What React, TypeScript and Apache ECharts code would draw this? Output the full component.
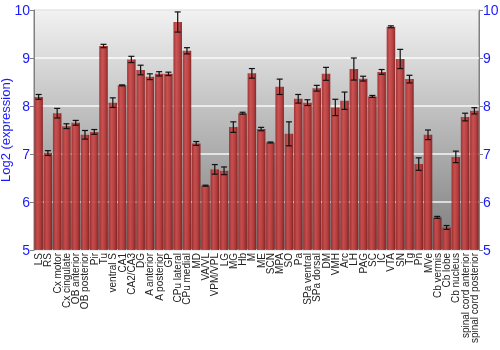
import React, { useEffect, useRef } from "react";
import * as echarts from "echarts";

const categories = [
  "LS", "RS", "Cx motor", "Cx cingulate", "OB anterior", "OB posterior", "Pir", "Tu",
  "ventral S", "CA1", "CA2/CA3", "DG", "A anterior", "A posterior", "GP", "CPu lateral",
  "CPu medial", "MD", "VA/VL", "VPM/VPL", "LG", "MG", "Hb", "M", "ME", "SCN", "MPA",
  "SO", "Pa", "SPa ventral", "SPa dorsal", "DM", "VMH", "Arc", "LH", "PAG", "SC", "IC",
  "VTA", "SN", "Tg", "Pn", "MVe", "Cb vermis", "Cb lobe", "Cb nucleus",
  "spinal cord anterior", "spinal cord posterior",
];

const values = [
  8.19, 7.02, 7.85, 7.58, 7.65, 7.40, 7.46, 9.25,
  8.07, 8.43, 8.97, 8.75, 8.61, 8.67, 8.67, 9.75,
  9.15, 7.22, 6.34, 6.68, 6.65, 7.56, 7.85, 8.68, 7.52, 7.24, 8.40,
  7.42, 8.15, 8.07, 8.37, 8.67, 7.97, 8.11, 8.77, 8.57, 8.20, 8.71,
  9.65, 8.98, 8.56, 6.79, 7.40, 5.68, 5.47, 6.94,
  7.77, 7.90,
];

const errors = [
  0.05, 0.05, 0.10, 0.05, 0.05, 0.09, 0.05, 0.035,
  0.10, 0.01, 0.065, 0.10, 0.06, 0.045, 0.035, 0.21,
  0.065, 0.04, 0.01, 0.10, 0.08, 0.11, 0.02, 0.10, 0.035, 0.01, 0.16,
  0.25, 0.09, 0.06, 0.06, 0.135, 0.17, 0.18, 0.23, 0.05, 0.02, 0.05,
  0.02, 0.20, 0.08, 0.13, 0.10, 0.02, 0.04, 0.12,
  0.08, 0.065,
];

const yTicks = [5, 6, 7, 8, 9, 10];

export default function App() {
  const ref = useRef<HTMLDivElement>(null);
  useEffect(() => {
    if (!ref.current) return;
    const chart = echarts.init(ref.current, null, { renderer: "svg" });
    const blue = "#1a1aff";
    const errData = values.map((v, i) => [i, v - errors[i], v + errors[i]]);
    chart.setOption({
      animation: false,
      grid: {
        left: 34,
        right: 21,
        top: 10,
        bottom: 100,
        outerBoundsMode: "none",
        containLabel: false,
        show: true,
        borderColor: "#808080",
        borderWidth: 1,
        backgroundColor: new echarts.graphic.LinearGradient(0, 0, 0, 1, [
          { offset: 0, color: "#f2f2f2" },
          { offset: 1, color: "#7c7c7c" },
        ]),
      },
      xAxis: {
        type: "category",
        data: categories,
        axisLine: { show: false },
        axisTick: { show: false },
        axisLabel: {
          rotate: 90,
          interval: 0,
          fontSize: 10,
          margin: 3,
          color: "#222",
          fontFamily: "Liberation Sans",
        },
      },
      yAxis: [
        {
          type: "value",
          min: yTicks[0],
          max: yTicks[yTicks.length - 1],
          interval: 1,
          name: "Log2 (expression)",
          nameLocation: "middle",
          nameGap: 22,
          nameMoveOverlap: false,
          nameTextStyle: { color: blue, fontSize: 13, fontFamily: "Liberation Sans" },
          axisLine: { show: true, lineStyle: { color: "#808080" } },
          axisTick: { show: true, length: 4, lineStyle: { color: "#808080" } },
          axisLabel: { color: blue, fontSize: 14, margin: 4, fontFamily: "Liberation Sans" },
          splitLine: { show: true, lineStyle: { color: "rgba(255,255,255,0.9)", width: 1.5 } },
        },
        {
          type: "value",
          position: "right",
          min: yTicks[0],
          max: yTicks[yTicks.length - 1],
          interval: 1,
          axisLine: { show: true, lineStyle: { color: "#808080" } },
          axisTick: { show: true, length: 4, lineStyle: { color: "#808080" } },
          axisLabel: { color: blue, fontSize: 14, margin: 4, fontFamily: "Liberation Sans" },
          splitLine: { show: false },
        },
      ],
      series: [
        {
          type: "bar",
          data: values,
          barCategoryGap: "8%",
          itemStyle: {
            color: new echarts.graphic.LinearGradient(0, 0, 1, 0, [
              { offset: 0, color: "#9c2a2a" },
              { offset: 0.35, color: "#cc4848" },
              { offset: 0.7, color: "#b53535" },
              { offset: 1, color: "#7e1c1c" },
            ]),
            opacity: 0.92,
          },
        },
        {
          type: "custom",
          data: errData,
          z: 10,
          renderItem: (params: any, api: any) => {
            const x = api.value(0);
            const lo = api.coord([x, api.value(1)]);
            const hi = api.coord([x, api.value(2)]);
            const hw = 3;
            const style = { stroke: "#111", lineWidth: 1.2 };
            return {
              type: "group",
              children: [
                { type: "line", shape: { x1: lo[0], y1: lo[1], x2: hi[0], y2: hi[1] }, style },
                { type: "line", shape: { x1: lo[0] - hw, y1: lo[1], x2: lo[0] + hw, y2: lo[1] }, style },
                { type: "line", shape: { x1: hi[0] - hw, y1: hi[1], x2: hi[0] + hw, y2: hi[1] }, style },
              ],
            };
          },
        },
      ],
    });
    return () => chart.dispose();
  }, []);
  return (
    <div
      ref={ref}
      style={{ position: "fixed", left: 0, top: 0, width: 500, height: 350 }}
    />
  );
}
